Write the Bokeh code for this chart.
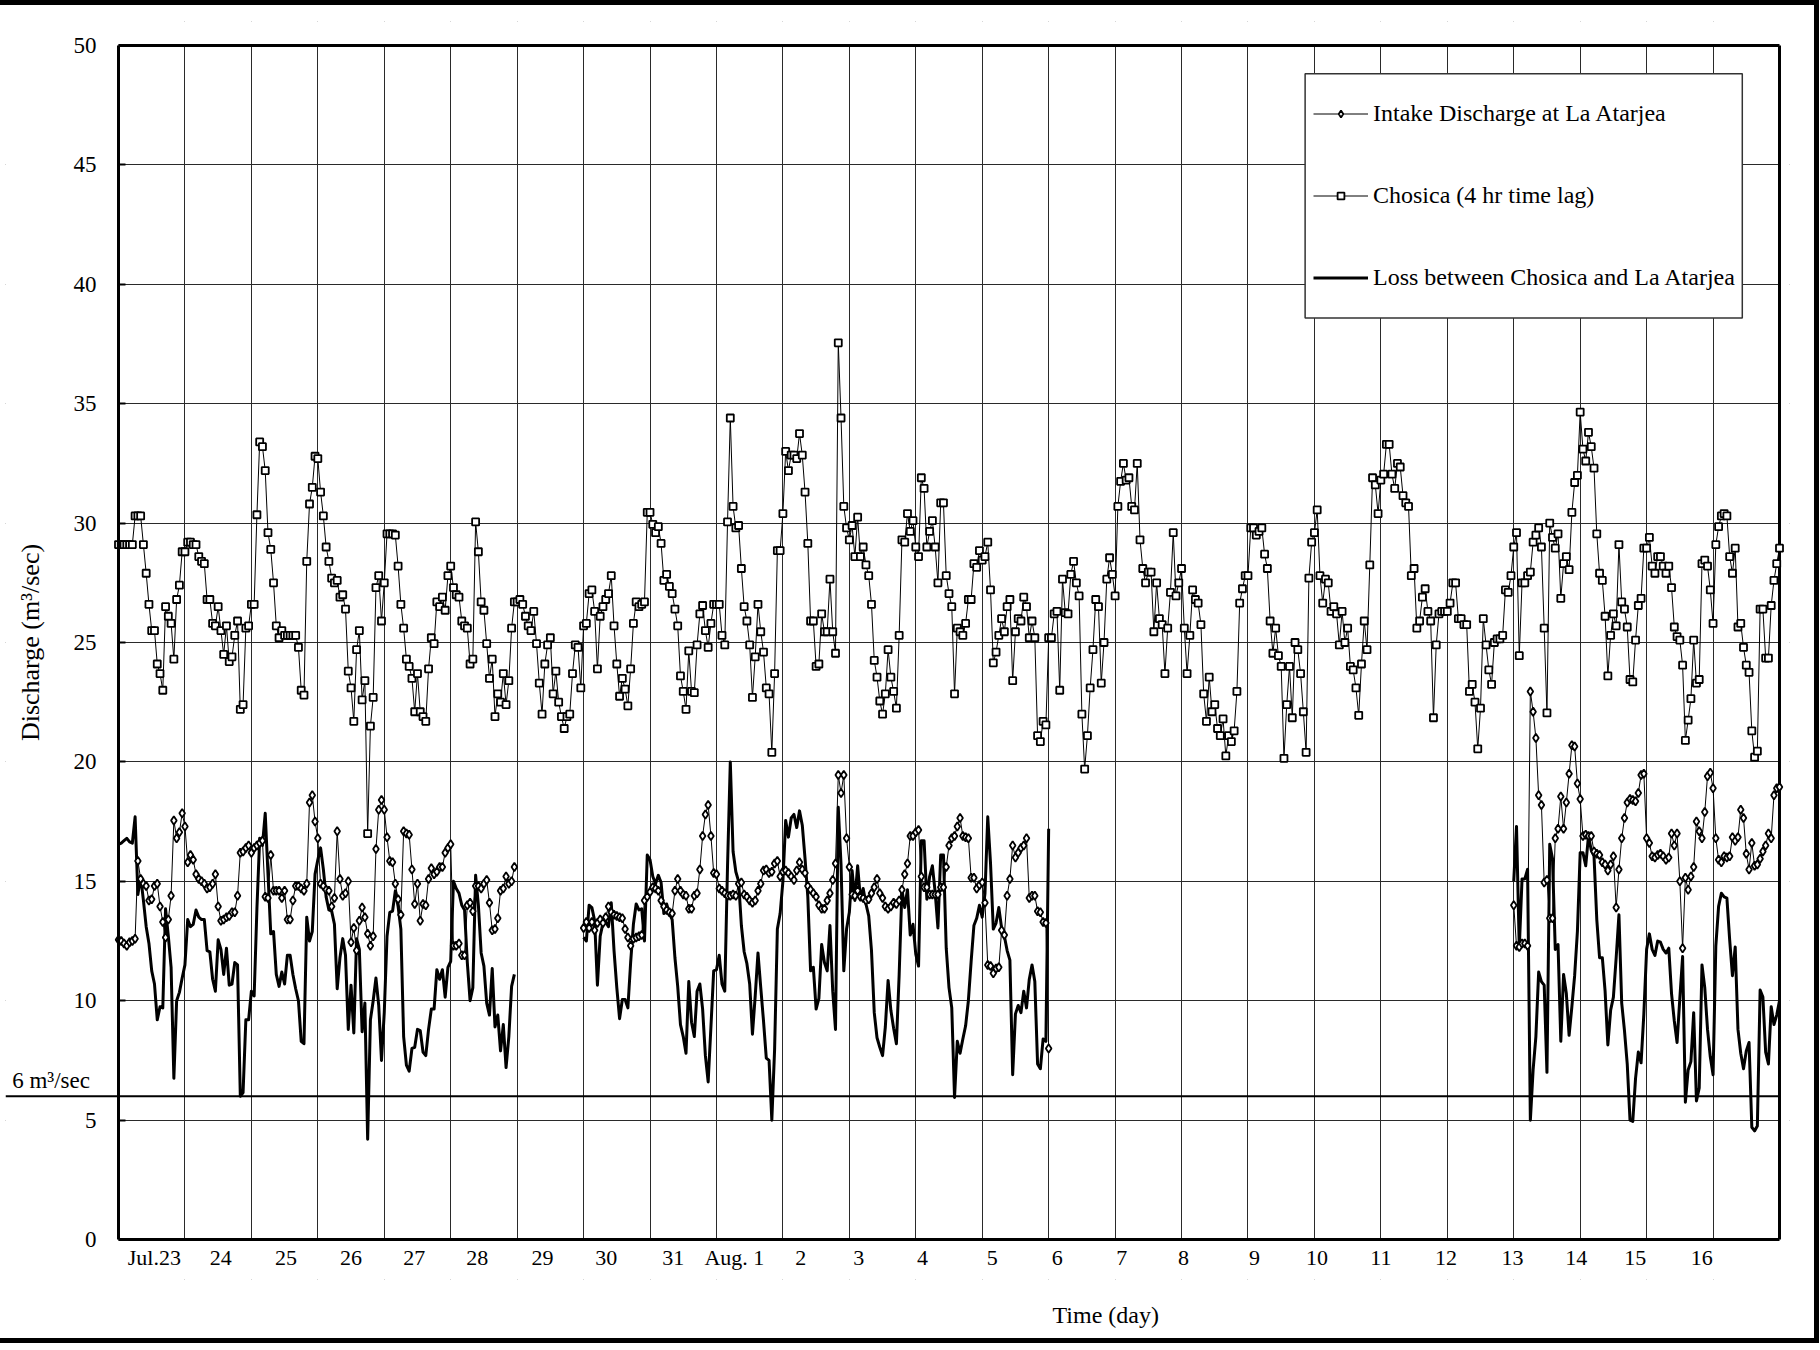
import math
from bokeh.plotting import figure
from bokeh.models import (Range1d, FixedTicker, Label, Legend, LegendItem,
                          BoxAnnotation, ColumnDataSource, Title)
from bokeh.embed import file_html
from bokeh.resources import INLINE

# ---------------- data (hourly values, m3/sec) ----------------
# Chosica (4 hr time lag), one list per day, 24 hourly readings each
chosica_jul23 = [29.1, 29.1, 29.1, 29.1, 29.1, 29.1, 30.3, 30.3, 30.3, 29.1, 27.9, 26.6, 25.5, 25.5, 24.1, 23.7, 23.0, 26.5, 26.1, 25.8, 24.3, 26.8, 27.4, 28.8]
chosica_jul24 = [28.8, 29.2, 29.2, 29.1, 29.1, 28.6, 28.4, 28.3, 26.8, 26.8, 25.8, 25.7, 26.5, 25.5, 24.5, 25.7, 24.2, 24.4, 25.3, 25.9, 22.2, 22.4, 25.6, 25.7]
chosica_jul25 = [26.6, 26.6, 30.35, 33.4, 33.2, 32.2, 29.6, 28.9, 27.5, 25.7, 25.2, 25.5, 25.3, 25.3, 25.3, 25.3, 25.3, 24.8, 23.0, 22.8, 28.4, 30.8, 31.5, 32.8]
chosica_jul26 = [32.7, 31.3, 30.3, 29.0, 28.4, 27.7, 27.5, 27.6, 26.9, 27.0, 26.4, 23.8, 23.1, 21.7, 24.7, 25.5, 22.6, 23.4, 17.0, 21.5, 22.7, 27.3, 27.8, 25.9]
chosica_jul27 = [27.5, 29.55, 29.55, 29.55, 29.5, 28.2, 26.6, 25.6, 24.3, 24.0, 23.5, 22.1, 23.7, 22.1, 21.9, 21.7, 23.9, 25.2, 24.95, 26.7, 26.5, 26.9, 26.35, 27.8]
chosica_jul28 = [28.2, 27.3, 27.0, 26.9, 25.9, 25.7, 25.6, 24.1, 24.3, 30.05, 28.8, 26.7, 26.35, 24.95, 23.5, 24.3, 21.9, 22.85, 22.5, 23.7, 22.4, 23.4, 25.6, 26.7]
chosica_jul29 = [26.7, 26.8, 26.6, 26.1, 25.7, 25.5, 26.3, 24.95, 23.3, 22.0, 24.1, 24.9, 25.2, 22.85, 23.8, 22.5, 21.9, 21.4, 21.9, 22.0, 23.7, 24.9, 24.8, 23.1]
chosica_jul30 = [25.7, 25.8, 27.05, 27.2, 26.3, 23.9, 26.1, 26.5, 26.8, 27.05, 27.8, 25.7, 24.1, 22.75, 23.5, 23.05, 22.35, 23.9, 25.8, 26.7, 26.5, 26.6, 26.7, 30.45]
chosica_jul31 = [30.45, 29.95, 29.6, 29.85, 29.15, 27.6, 27.85, 27.35, 27.05, 26.4, 25.7, 23.6, 22.95, 22.2, 24.65, 22.95, 22.9, 24.9, 26.2, 26.55, 25.5, 24.8, 25.8, 26.6]
chosica_aug01 = [26.6, 26.6, 25.3, 24.9, 30.05, 34.4, 30.7, 29.8, 29.9, 28.1, 26.5, 25.9, 24.9, 22.7, 24.4, 26.6, 25.45, 24.6, 23.1, 22.85, 20.4, 23.7, 28.85, 28.85]
chosica_aug02 = [30.4, 33.0, 32.2, 32.85, 32.85, 32.7, 33.75, 32.85, 31.3, 29.15, 25.9, 25.9, 24.0, 24.1, 26.2, 25.45, 25.45, 27.65, 25.45, 24.55, 37.55, 34.4, 30.7, 29.8]
chosica_aug03 = [29.3, 29.9, 28.6, 30.25, 28.6, 29.0, 28.25, 27.8, 26.6, 24.25, 23.55, 22.55, 22.0, 22.85, 24.7, 23.55, 22.95, 22.25, 25.3, 29.3, 29.2, 30.4, 29.65, 30.1]
chosica_aug04 = [29.0, 28.6, 31.9, 31.45, 29.0, 29.65, 30.1, 29.0, 27.5, 30.85, 30.85, 27.8, 27.05, 26.5, 22.85, 25.6, 25.45, 25.3, 25.8, 26.8, 26.8, 28.3, 28.15, 28.85]
chosica_aug05 = [28.45, 28.6, 29.2, 27.2, 24.15, 24.6, 25.3, 26.0, 25.45, 26.5, 26.8, 23.4, 25.45, 26.0, 25.9, 26.9, 26.5, 25.2, 25.9, 25.2, 21.1, 20.85, 21.7, 21.55]
chosica_aug06 = [25.2, 25.2, 26.2, 26.3, 23.0, 27.65, 26.25, 26.2, 27.85, 28.4, 27.5, 26.95, 22.0, 19.7, 21.1, 23.1, 24.7, 26.8, 26.5, 23.3, 25.0, 27.65, 28.55, 27.85]
chosica_aug07 = [26.95, 30.7, 31.75, 32.5, 31.8, 31.9, 30.7, 30.55, 32.5, 29.3, 28.1, 27.5, 27.95, 27.95, 25.45, 27.5, 26.0, 25.75, 23.7, 25.6, 27.1, 29.6, 26.95, 27.5]
chosica_aug08 = [28.1, 25.6, 23.7, 25.3, 27.2, 26.8, 26.65, 25.75, 22.85, 21.7, 23.55, 22.1, 22.4, 21.4, 21.1, 21.8, 20.25, 21.1, 20.85, 21.3, 22.95, 26.65, 27.25, 27.8]
chosica_aug09 = [27.8, 29.8, 29.8, 29.5, 29.65, 29.8, 28.7, 28.1, 25.9, 24.55, 25.6, 24.45, 24.0, 20.15, 22.4, 24.0, 21.85, 25.0, 24.7, 23.7, 22.1, 20.4, 27.7, 29.2]
chosica_aug10 = [29.6, 30.55, 27.8, 26.65, 27.65, 27.5, 26.3, 26.5, 26.2, 24.9, 26.3, 25.0, 25.6, 24.0, 23.85, 23.1, 21.95, 24.1, 25.9, 24.7, 28.25, 31.9, 31.6, 30.4]
chosica_aug11 = [31.8, 32.05, 33.3, 33.3, 32.05, 31.45, 32.5, 32.35, 31.15, 30.85, 30.7, 27.8, 28.1, 25.6, 25.9, 26.9, 27.25, 26.3, 25.9, 21.85, 24.9, 26.2, 26.3, 26.3]
chosica_aug12 = [26.3, 26.65, 27.5, 27.5, 26.0, 26.0, 25.75, 25.75, 22.95, 23.25, 22.5, 20.55, 22.25, 26.0, 24.9, 23.85, 23.25, 25.0, 25.15, 25.15, 25.3, 27.2, 27.1, 27.8]
chosica_aug13 = [29.0, 29.6, 24.45, 27.5, 27.5, 27.8, 27.95, 29.2, 29.5, 29.8, 29.0, 25.6, 22.05, 30.0, 29.4, 28.95, 29.55, 26.85, 28.3, 28.6, 28.05, 30.45, 31.7, 32.0]
chosica_aug14 = [34.65, 33.1, 32.6, 33.8, 33.2, 32.3, 29.55, 27.9, 27.6, 26.1, 23.6, 25.3, 26.2, 25.7, 29.1, 26.7, 26.4, 25.65, 23.45, 23.35, 25.1, 26.55, 26.85, 28.95]
chosica_aug15 = [28.95, 29.4, 28.2, 27.9, 28.6, 28.6, 28.2, 27.9, 28.2, 27.3, 25.65, 25.25, 25.1, 24.05, 20.9, 21.75, 22.65, 25.1, 23.3, 23.45, 28.3, 28.45, 28.2, 27.2]
chosica_aug16 = [25.8, 29.1, 29.85, 30.3, 30.4, 30.3, 28.6, 27.9, 28.95, 25.65, 25.8, 24.8, 24.05, 23.75, 21.3, 20.2, 20.45, 26.4, 26.4, 24.35, 24.35, 26.55, 27.6, 28.3]
chosica_aug17_0h = [28.95]

# Intake discharge at La Atarjea (three recorded periods)
intake_jul23 = [12.55, 12.5, 12.4, 12.3, 12.45, 12.5, 12.6, 15.85, 15.1, 14.9, 14.8, 14.2, 14.25, 14.8, 14.9, 13.95, 13.3, 12.65, 13.4, 14.4, 17.55, 16.8, 17.05, 17.85]
intake_jul24 = [17.3, 15.8, 16.1, 15.9, 15.3, 15.1, 15.0, 14.9, 14.7, 14.75, 14.9, 15.3, 13.95, 13.35, 13.4, 13.5, 13.55, 13.7, 13.7, 14.4, 16.2, 16.25, 16.4, 16.5]
intake_jul25 = [16.2, 16.4, 16.5, 16.6, 16.7, 14.35, 14.3, 16.1, 14.6, 14.6, 14.6, 14.3, 14.6, 13.4, 13.4, 14.2, 14.8, 14.8, 14.7, 14.6, 14.9, 18.3, 18.6, 17.5]
intake_jul26 = [16.8, 14.9, 14.8, 14.65, 14.6, 13.95, 14.3, 17.1, 15.1, 14.4, 14.5, 15.0, 12.45, 13.05, 12.1, 13.35, 13.9, 13.5, 12.8, 12.3, 12.7, 16.35, 18.0, 18.4]
intake_jul27 = [18.0, 16.85, 15.85, 15.8, 14.9, 14.25, 13.6, 17.1, 17.0, 16.95, 15.5, 14.05, 14.9, 13.35, 14.05, 14.0, 15.1, 15.55, 15.3, 15.4, 15.6, 15.6, 16.2, 16.4]
intake_jul28 = [16.55, 12.3, 12.3, 12.4, 11.9, 11.9, 14.0, 14.1, 13.75, 14.8, 14.8, 14.7, 14.9, 15.05, 14.1, 12.95, 13.0, 13.45, 14.6, 14.7, 15.2, 14.9, 15.0, 15.6]

intake_jul30 = [13.05, 13.3, 13.05, 13.3, 12.95, 13.25, 13.4, 13.25, 13.5, 13.95, 13.7, 13.6, 13.55, 13.5, 13.45, 13.0, 12.65, 12.3, 12.6, 12.65, 12.7, 12.75, 14.2, 14.35]
intake_jul31 = [14.55, 14.75, 14.7, 14.6, 14.2, 13.95, 13.8, 13.7, 13.65, 14.6, 15.1, 14.6, 14.45, 14.4, 13.85, 13.85, 14.4, 14.5, 15.5, 16.9, 17.8, 18.2, 16.9, 15.35]
intake_aug01 = [15.3, 14.7, 14.6, 14.5, 14.4, 14.4, 14.45, 14.4, 14.9, 14.95, 14.45, 14.35, 14.2, 14.1, 14.2, 14.6, 14.9, 15.45, 15.5, 15.35, 15.4, 15.75, 15.85, 15.2]
intake_aug02 = [15.4, 15.45, 15.35, 15.2, 15.05, 15.45, 15.8, 15.5, 15.35, 14.8, 14.65, 14.5, 14.35, 14.0, 13.85, 13.85, 14.2, 14.5, 15.05, 15.75, 19.45, 18.7, 19.45, 16.8]
intake_aug03 = [15.6, 14.45, 14.4, 14.6, 14.35, 14.3, 14.2, 14.25, 14.5, 14.75, 15.1, 14.5, 14.3, 13.95, 13.85, 13.95, 14.1, 14.05, 14.2, 14.65, 15.3, 15.75, 16.9, 16.9]
intake_aug04 = [17.05, 17.15, 15.2, 14.75, 14.75, 14.45, 14.45, 14.45, 14.45, 14.75, 14.75, 15.6, 16.5, 16.8, 16.9, 17.3, 17.65, 16.9, 16.85, 16.8, 15.15, 15.15, 14.7, 14.85]
intake_aug05 = [14.95, 14.1, 11.5, 11.45, 11.15, 11.35, 11.4, 12.95, 12.75, 14.4, 15.1, 16.5, 16.0, 16.2, 16.4, 16.5, 16.8, 14.3, 14.4, 14.4, 13.75, 13.7, 13.3, 13.25]
intake_aug06_0h = [8.0]

intake_aug13 = [14.0, 12.3, 12.25, 12.4, 12.4, 12.3, 22.95, 22.1, 21.0, 18.6, 18.2, 14.95, 15.05, 13.45, 13.45, 16.8, 17.2, 18.55, 17.2, 18.3, 19.5, 20.7, 20.65, 19.1]
intake_aug14 = [18.45, 16.9, 16.95, 16.9, 16.9, 16.25, 16.15, 16.1, 15.8, 15.7, 15.45, 15.7, 16.05, 13.9, 15.5, 16.8, 17.65, 18.3, 18.45, 18.4, 18.35, 18.7, 19.45, 19.5]
intake_aug15 = [16.8, 16.6, 16.05, 16.0, 16.1, 16.15, 16.05, 15.9, 16.0, 17.0, 16.5, 17.0, 15.0, 12.2, 15.15, 14.65, 15.2, 15.6, 17.5, 17.1, 16.8, 17.9, 19.4, 19.55]
intake_aug16 = [18.9, 16.8, 15.9, 15.8, 16.05, 16.0, 16.05, 16.85, 16.7, 16.85, 18.0, 17.65, 16.15, 15.5, 16.6, 15.65, 15.7, 15.95, 16.25, 16.5, 17.0, 16.8, 18.6, 18.9]
intake_aug17_0h = [18.95]

# x-axis day labels and their positions (days after Jul 23, 0:00)
day_labels = ["Jul.23", "24", "25", "26", "27", "28", "29", "30", "31", "Aug. 1",
              "2", "3", "4", "5", "6", "7", "8", "9", "10", "11", "12", "13", "14", "15", "16"]
day_label_pos = [0.54, 1.54, 2.52, 3.50, 4.45, 5.40, 6.38, 7.34, 8.35, 9.27,
                 10.27, 11.14, 12.10, 13.15, 14.13, 15.10, 16.03, 17.10, 18.04, 19.00,
                 19.98, 20.98, 21.94, 22.83, 23.83]
y_ticks = [0, 5, 10, 15, 20, 25, 30, 35, 40, 45, 50]
threshold = 6  # m3/sec
n_days = 25
y_max = 50

# ---------------- assemble series ----------------
chosica = (chosica_jul23 + chosica_jul24 + chosica_jul25 + chosica_jul26 + chosica_jul27 +
           chosica_jul28 + chosica_jul29 + chosica_jul30 + chosica_jul31 + chosica_aug01 +
           chosica_aug02 + chosica_aug03 + chosica_aug04 + chosica_aug05 + chosica_aug06 +
           chosica_aug07 + chosica_aug08 + chosica_aug09 + chosica_aug10 + chosica_aug11 +
           chosica_aug12 + chosica_aug13 + chosica_aug14 + chosica_aug15 + chosica_aug16 +
           chosica_aug17_0h)
n = len(chosica)
t = [i / 24.0 for i in range(n)]

nan = float("nan")
intake = [nan] * n
segments = [
    (0, intake_jul23 + intake_jul24 + intake_jul25 + intake_jul26 + intake_jul27 + intake_jul28),
    (7 * 24, intake_jul30 + intake_jul31 + intake_aug01 + intake_aug02 + intake_aug03 +
     intake_aug04 + intake_aug05 + intake_aug06_0h),
    (21 * 24, intake_aug13 + intake_aug14 + intake_aug15 + intake_aug16 + intake_aug17_0h),
]
for start, vals in segments:
    for k, v in enumerate(vals):
        intake[start + k] = v

loss = [round(c - q, 3) if not math.isnan(q) else nan for c, q in zip(chosica, intake)]
src = ColumnDataSource(dict(t=t, chosica=chosica, intake=intake, loss=loss))

# ---------------- figure geometry ----------------
FONT = "Liberation Serif"
PX_PER_DAY = 66.44
PX_PER_UNIT = 23.9
pad_left, pad_right, pad_top, pad_bottom = 113, 10, 24, 40   # px of frame outside the 0..25 / 0..50 box
x_lo = -pad_left / PX_PER_DAY
x_hi = n_days + pad_right / PX_PER_DAY
y_lo = -pad_bottom / PX_PER_UNIT
y_hi = y_max + pad_top / PX_PER_UNIT

p = figure(width=1819, height=1343, x_range=Range1d(x_lo, x_hi), y_range=Range1d(y_lo, y_hi),
           output_backend="svg", toolbar_location=None,
           min_border_left=5, min_border_right=30, min_border_top=16, min_border_bottom=68,
           background_fill_color="white", border_fill_color="white")
p.styles = {"border-top": "5px solid black", "border-right": "5px solid black",
            "border-bottom": "5px solid black"}
p.outline_line_color = None

# grid, limited to the 0..25 x 0..50 box by white underlay masks
p.xgrid.ticker = FixedTicker(ticks=list(range(1, n_days)))
p.ygrid.ticker = FixedTicker(ticks=y_ticks[1:-1])
for g in (p.xgrid, p.ygrid):
    g.grid_line_color = "#2a2a2a"
    g.grid_line_width = 1
for kw in (dict(right=0), dict(left=n_days), dict(bottom=y_max), dict(top=0)):
    p.add_layout(BoxAnnotation(fill_color="white", fill_alpha=1.0, line_color=None,
                               level="underlay", **kw))

# x axis (at y = 0)
p.xaxis.fixed_location = 0
p.xaxis.bounds = (0, n_days)
p.xaxis.ticker = FixedTicker(ticks=day_label_pos)
p.xaxis.major_label_overrides = {pos: lab for pos, lab in zip(day_label_pos, day_labels)}
p.xaxis.major_tick_line_color = None
p.xaxis.major_tick_out = 0
p.xaxis.major_tick_in = 0
p.xaxis.minor_tick_line_color = None
p.xaxis.axis_line_width = 3
p.xaxis.major_label_standoff = 5
p.xaxis.major_label_text_font = FONT
p.xaxis.major_label_text_font_size = "22px"
p.xaxis.major_label_text_color = "black"

# y axis (at day 0) so the 6 m3/sec line can run to its left
p.yaxis.fixed_location = 0
p.yaxis.bounds = (0, y_max)
p.yaxis.ticker = FixedTicker(ticks=y_ticks)
p.yaxis.major_tick_in = 7
p.yaxis.major_tick_out = 0
p.yaxis.major_tick_line_width = 2
p.yaxis.minor_tick_line_color = None
p.yaxis.axis_line_width = 3
p.yaxis.major_label_standoff = 22
p.yaxis.major_label_text_font = FONT
p.yaxis.major_label_text_font_size = "23px"
p.yaxis.major_label_text_color = "black"
p.yaxis.axis_label = "Discharge (m³/sec)"
p.yaxis.axis_label_text_font = FONT
p.yaxis.axis_label_text_font_size = "26px"
p.yaxis.axis_label_text_font_style = "normal"
p.yaxis.axis_label_text_color = "black"
p.yaxis.axis_label_standoff = 26

# plot frame: top and right edges
p.segment(x0=[0, n_days], y0=[y_max, 0], x1=[n_days, n_days], y1=[y_max, y_max],
          line_color="black", line_width=3)

# 6 m3/sec reference line (runs left past the axis) and its label
p.segment(x0=[x_lo], y0=[threshold], x1=[n_days], y1=[threshold],
          line_color="black", line_width=2)
p.add_layout(Label(x=x_lo + 0.1, y=threshold + 0.15, text="6 m³/sec", text_font=FONT,
                   text_font_size="23px", text_color="black", text_baseline="bottom",
                   text_align="left"))

# series
r_ch_line = p.line("t", "chosica", source=src, line_color="black", line_width=1)
r_ch_pts = p.scatter("t", "chosica", source=src, marker="square", size=7,
                     line_color="black", line_width=1.8, fill_color="white")
r_in_line = p.line("t", "intake", source=src, line_color="black", line_width=1)
r_loss = p.line("t", "loss", source=src, line_color="black", line_width=3, line_join="round")
r_in_pts = p.scatter("t", "intake", source=src, marker="diamond", size=8.5,
                     line_color="black", line_width=1.8, fill_color="white")

# x axis title
p.add_layout(Title(text="Time (day)", align="left", offset=1047, standoff=41,
                   text_font=FONT, text_font_size="24px", text_font_style="normal",
                   text_color="black"), "below")

# legend box + legend
p.add_layout(BoxAnnotation(left=17.86, right=24.44, bottom=38.59, top=48.82,
                           fill_color="white", fill_alpha=1.0,
                           line_color="#333333", line_width=1.5, line_alpha=1.0))
legend = Legend(items=[
    LegendItem(label="Intake Discharge at La Atarjea", renderers=[r_in_line, r_in_pts]),
    LegendItem(label="Chosica (4 hr time lag)", renderers=[r_ch_line, r_ch_pts]),
    LegendItem(label="Loss between Chosica and La Atarjea", renderers=[r_loss]),
], location=(1308, 988), orientation="vertical", glyph_width=55, glyph_height=17,
    label_height=17, spacing=55, padding=5, label_standoff=5,
    border_line_color=None, background_fill_alpha=0,
    label_text_font=FONT, label_text_font_size="24px", label_text_color="black")
p.add_layout(legend)

open("out.html", "w").write(file_html(p, INLINE))
